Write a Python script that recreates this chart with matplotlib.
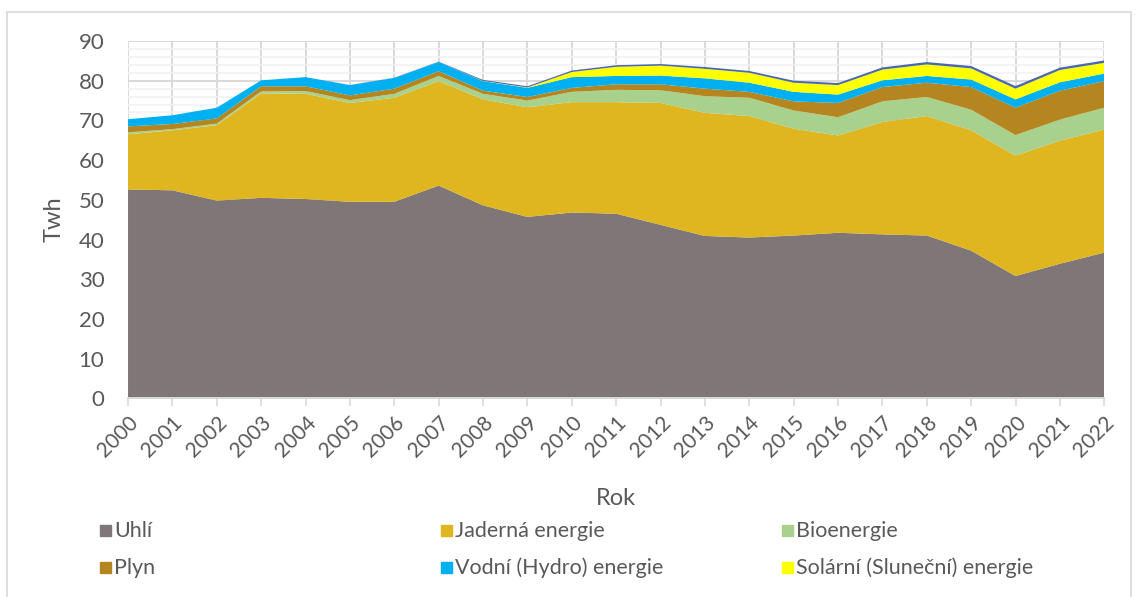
import matplotlib
matplotlib.use("Agg")
import matplotlib.pyplot as plt
from matplotlib.patches import Rectangle
from matplotlib.ticker import MultipleLocator

plt.rcParams["font.family"] = ["Lato", "DejaVu Sans"]

YEARS = list(range(2000, 2023))
NAMES = ["Uhlí", "Jaderná energie", "Bioenergie", "Plyn",
         "Vodní (Hydro) energie", "Solární (Sluneční) energie"]
COLORS = ["#7F7777", "#DFB520", "#A9D18E", "#B58620", "#00B0F0", "#FFFF00"]

# TWh
COAL = [52.6, 52.4, 49.8, 50.5, 50.2, 49.5, 49.5, 53.6, 48.6, 45.7, 46.8, 46.5,
        43.7, 40.9, 40.5, 41.0, 41.7, 41.3, 41.0, 37.2, 30.8, 33.9, 36.7]
NUCLEAR = [13.9, 15.1, 19.0, 26.3, 26.5, 24.9, 26.2, 26.3, 26.7, 27.6, 27.8, 28.1,
           30.7, 31.0, 30.6, 26.9, 24.5, 28.3, 30.1, 30.3, 30.3, 31.0, 31.0]
BIO = [0.5, 0.3, 0.4, 0.5, 0.7, 0.7, 1.0, 1.3, 1.4, 1.7, 2.6, 3.1,
       3.2, 4.2, 4.6, 4.6, 4.6, 5.2, 4.8, 5.2, 5.2, 5.3, 5.5]
GAS = [1.5, 1.3, 1.3, 1.3, 1.2, 1.2, 1.3, 1.2, 0.8, 0.9, 1.0, 1.4,
       1.5, 1.9, 1.5, 2.3, 3.6, 3.6, 3.6, 5.7, 6.9, 7.3, 6.7]
HYDRO = [1.8, 2.2, 2.7, 1.5, 2.3, 2.6, 2.7, 2.3, 2.4, 2.3, 2.7, 2.1,
         2.2, 2.6, 2.3, 2.4, 2.1, 1.7, 1.7, 1.9, 2.1, 2.1, 1.9]
SOLAR = [0.0, 0.0, 0.0, 0.0, 0.0, 0.0, 0.0, 0.0, 0.05, 0.1, 1.3, 2.3,
         2.5, 2.4, 2.5, 2.3, 2.4, 2.7, 2.9, 2.8, 2.7, 3.1, 2.7]
# thin unlabelled band on top of the stack
OTHER = [0.0, 0.0, 0.0, 0.0, 0.0, 0.02, 0.05, 0.1, 0.25, 0.3, 0.35, 0.4,
         0.4, 0.45, 0.45, 0.5, 0.5, 0.55, 0.6, 0.6, 0.65, 0.6, 0.6]
OTHER_COLOR = "#4A68AE"

GRID = "#D9D9D9"
TEXT = "#595959"

fig = plt.figure(figsize=(11.39, 5.97), dpi=100)
ax = fig.add_axes([0.1124, 0.3328, 0.8571, 0.5985])

ax.stackplot(YEARS, COAL, NUCLEAR, BIO, GAS, HYDRO, SOLAR, OTHER,
             colors=COLORS + [OTHER_COLOR], linewidth=0)

ax.set_xlim(2000, 2022)
ax.set_ylim(0, 90)
ax.yaxis.set_major_locator(MultipleLocator(10))
ax.yaxis.set_minor_locator(MultipleLocator(2))
ax.set_xticks(YEARS)
ax.set_xticklabels([str(y) for y in YEARS], rotation=45, ha="right",
                   rotation_mode="anchor", fontsize=15, color=TEXT)
ax.tick_params(axis="x", length=6, color=GRID, width=1.2, pad=4)
ax.tick_params(axis="y", which="both", length=0, labelsize=16,
               labelcolor=TEXT, pad=17)

ax.set_axisbelow(True)
ax.grid(which="major", color=GRID, linewidth=1.4)
ax.grid(which="minor", axis="y", color="#F2F2F2", linewidth=1.2)
for side in ["top", "right", "left"]:
    ax.spines[side].set_visible(False)
ax.spines["bottom"].set_color(GRID)
ax.spines["bottom"].set_linewidth(1.4)

ax.set_xlabel("Rok", fontsize=17, color=TEXT, labelpad=20)
ax.set_ylabel("Twh", fontsize=17, color=TEXT, labelpad=10)

# legend laid out in 3 evenly spaced columns, like the original
for i, (name, color) in enumerate(zip(NAMES, COLORS)):
    col, row = i % 3, i // 3
    x = 0.0878 + col * 0.2993
    y = 0.1106 - row * 0.062
    fig.patches.append(Rectangle((x, y - 0.0092), 0.0097, 0.0184,
                                 transform=fig.transFigure, color=color))
    fig.text(x + 0.0123, y, name, fontsize=15.5, color=TEXT, va="center")

# chart frame
fig.patches.append(Rectangle((0.0062, -0.01), 0.9868, 0.99,
                             transform=fig.transFigure, fill=False,
                             edgecolor=GRID, linewidth=1.2))

fig.savefig("out.png", dpi=100)
